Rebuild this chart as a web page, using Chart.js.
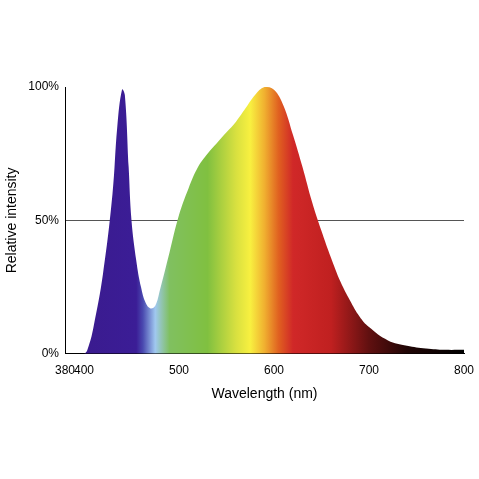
<!DOCTYPE html>
<html><head><meta charset="utf-8">
<script src="https://cdn.jsdelivr.net/npm/chart.js@4"></script>
<style>html,body{margin:0;padding:0;background:#fff}#w{width:479px;height:479px}</style>
</head><body><div id="w"><canvas id="c"></canvas></div>
<script>
const wavelengths = [380,400,405,410,420,430,435,440,443,447,450,455,460,465,470,475,480,490,500,510,520,530,540,550,560,570,580,590,600,610,620,630,640,650,660,670,680,690,700,720,740,760,780,800];
const intensity   = [0,0,3,10,30,60,85,99,97,70,50,35,25,19,17,18,24,38,52,62,70,75,79,83,87,92,97,100,99,93,82,70,57,46,36,27,20,14,10,5,3,2,1.5,1.5];
const xTicks = [380,400,500,600,700,800];
const yTicks = [0,50,100];
const stops = [[380,'#3a1a8c'],[455,'#3b1d96'],[462,'#4a4ab0'],[475,'#a0c8f0'],[490,'#80c060'],[530,'#80c040'],[560,'#d8e040'],[575,'#f8f040'],[590,'#f0b030'],[605,'#e06020'],[620,'#d02828'],[660,'#c02020'],[700,'#601010'],[740,'#200505'],[800,'#000000']];
const ctx = document.getElementById('c');
new Chart(ctx,{type:'line',
 data:{datasets:[{data:wavelengths.map((x,i)=>({x,y:intensity[i]})),fill:'origin',pointRadius:0,borderWidth:0,tension:0.4,
  backgroundColor:(c)=>{const ch=c.chart,a=ch.chartArea;if(!a)return '#888';const xs=ch.scales.x;
   const g=ch.ctx.createLinearGradient(a.left,0,a.right,0);
   stops.forEach(([w,col])=>g.addColorStop(Math.min(1,Math.max(0,(xs.getPixelForValue(w)-a.left)/(a.right-a.left))),col));return g;}}]},
 options:{responsive:true,maintainAspectRatio:false,animation:false,
  layout:{padding:{top:87,right:15,left:0,bottom:72}},
  plugins:{legend:{display:false},tooltip:{enabled:false}},
  scales:{
   x:{type:'linear',min:380,max:800,afterBuildTicks:s=>{s.ticks=xTicks.map(v=>({value:v}))},
    grid:{display:false},border:{color:'#000'},
    ticks:{color:'#000',font:{family:'Liberation Sans',size:12},autoSkip:false,maxRotation:0,padding:2},
    title:{display:true,text:'Wavelength (nm)',color:'#000',font:{family:'Liberation Sans',size:14},padding:{top:6}}},
   y:{min:0,max:100,afterBuildTicks:s=>{s.ticks=yTicks.map(v=>({value:v}))},
    afterFit:s=>{s.width=65},
    grid:{color:c=>c.tick&&c.tick.value===50?'#555':'rgba(0,0,0,0)',drawTicks:false,lineWidth:1},border:{color:'#000'},
    ticks:{color:'#000',font:{family:'Liberation Sans',size:12},callback:v=>v+'%',padding:6},
    title:{display:true,text:'Relative intensity',color:'#000',font:{family:'Liberation Sans',size:14},padding:{bottom:2}}}
  }}});
</script></body></html>
